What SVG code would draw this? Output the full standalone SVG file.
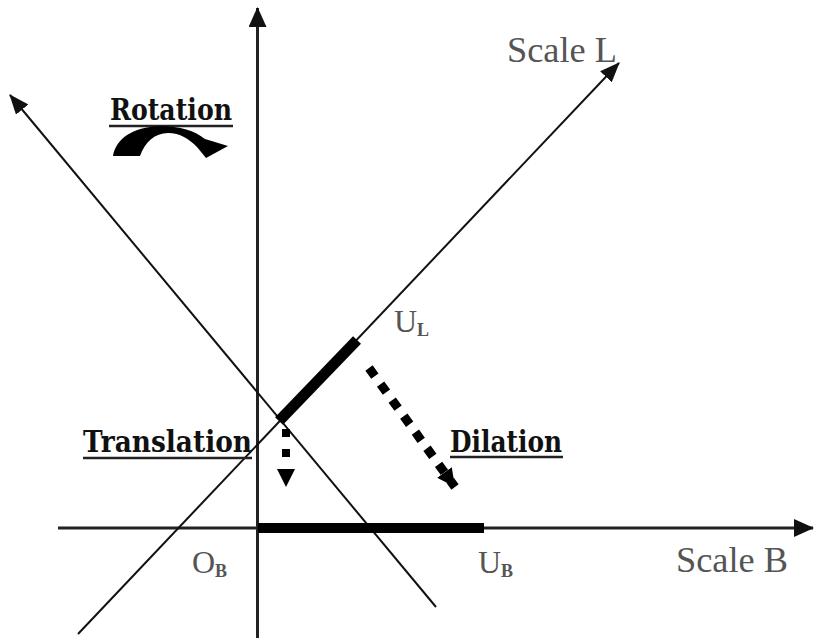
<svg xmlns="http://www.w3.org/2000/svg" width="814" height="638" viewBox="0 0 814 638">
<defs>
<style>
.axis{stroke:#222;stroke-width:3;fill:none}
.diag{stroke:#111;stroke-width:2;fill:none}
.bar{stroke:#000;stroke-linecap:butt;fill:none}
.dot{stroke:#000;fill:none;stroke-linecap:butt}
.lbl{font-family:"DejaVu Serif","Liberation Serif",serif;font-weight:bold;fill:#111}
.ul{stroke:#222;stroke-width:2.5}
.gray{font-family:"Liberation Serif","DejaVu Serif",serif;fill:#555}
.sub{font-weight:bold;font-size:18px}
</style>
<marker id="ah" markerUnits="userSpaceOnUse" viewBox="0 0 20 18" refX="19" refY="9" markerWidth="20" markerHeight="18" orient="auto">
<path d="M0,0 L20,9 L0,18 z" fill="#111"/>
</marker>
<marker id="ah2" markerUnits="userSpaceOnUse" viewBox="0 0 20 16" refX="19" refY="8" markerWidth="20" markerHeight="16" orient="auto">
<path d="M0,0 L20,8 L0,16 z" fill="#111"/>
</marker>
<marker id="dh" markerUnits="userSpaceOnUse" viewBox="0 0 18 18" refX="18" refY="9" markerWidth="18" markerHeight="18" orient="auto">
<path d="M0,0 L18,9 L0,18 z" fill="#000"/>
</marker>
</defs>
<rect width="814" height="638" fill="#fff"/>
<g id="connectors">
<line class="axis" x1="257.5" y1="638" x2="257.5" y2="8" marker-end="url(#ah)"/>
<line class="axis" x1="58" y1="528" x2="813" y2="528" marker-end="url(#ah)"/>
<line class="diag" x1="78" y1="634" x2="619" y2="63" marker-end="url(#ah2)"/>
<line class="diag" x1="436" y1="607" x2="10" y2="95" marker-end="url(#ah2)"/>
<line class="dot" x1="286" y1="429" x2="286" y2="487" stroke-width="8" stroke-dasharray="8 12" marker-end="url(#dh)"/>
<line class="dot" x1="369" y1="368" x2="455" y2="487" stroke-width="9" stroke-dasharray="10 9.8" marker-end="url(#dh)"/>
</g>
<g id="bar-B">
<line class="bar" x1="258" y1="528" x2="484" y2="528" stroke-width="10"/>
</g>
<g id="bar-L">
<line class="bar" x1="279" y1="421" x2="357" y2="340" stroke-width="11"/>
</g>
<g id="rotation">
<text class="lbl" x="110" y="120" font-size="30" textLength="122" lengthAdjust="spacingAndGlyphs">Rotation</text>
<line class="ul" x1="109" y1="126" x2="233" y2="126"/>
<path d="M113 156 C116 139 132 127 160 126 C180 126 195 131 205 139 L228 146 L206 158 L197 147 C189 139 180 133 168 133 C155 133 145 142 140 156 Z" fill="#000"/>
</g>
<g id="translation">
<text class="lbl" x="83" y="452" font-size="30" textLength="169" lengthAdjust="spacingAndGlyphs">Translation</text>
<line class="ul" x1="83" y1="458" x2="252" y2="458"/>
</g>
<g id="dilation">
<text class="lbl" x="450" y="452" font-size="30" textLength="112" lengthAdjust="spacingAndGlyphs">Dilation</text>
<line class="ul" x1="450" y1="457" x2="563" y2="457"/>
</g>
<g id="scale-L">
<text class="gray" x="507" y="62" font-size="35" textLength="110" lengthAdjust="spacingAndGlyphs">Scale L</text>
</g>
<g id="scale-B">
<text class="gray" x="676" y="572" font-size="35" textLength="112" lengthAdjust="spacingAndGlyphs">Scale B</text>
</g>
<g id="U-L">
<text class="gray" x="394" y="332" font-size="32">U<tspan class="sub" dy="4">L</tspan></text>
</g>
<g id="O-B">
<text class="gray" x="192" y="573" font-size="32">O<tspan class="sub" dy="4">B</tspan></text>
</g>
<g id="U-B">
<text class="gray" x="478" y="573" font-size="32">U<tspan class="sub" dy="4">B</tspan></text>
</g>
</svg>
